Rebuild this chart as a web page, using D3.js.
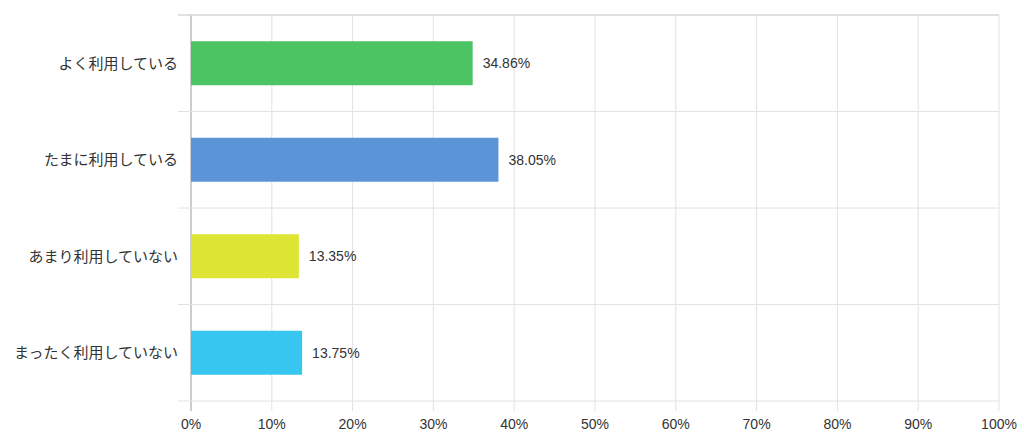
<!DOCTYPE html>
<html><head><meta charset="utf-8">
<script src="https://cdn.jsdelivr.net/npm/d3@7"></script>
<style>body{margin:0;background:#fff}svg{display:block}text{font-family:"Liberation Sans",Arial,"Noto Sans CJK JP",sans-serif}</style>
</head><body><svg id="c" width="1024" height="438"></svg>
<script>
const categories = ["よく利用している","たまに利用している","あまり利用していない","まったく利用していない"];
const values = [34.86, 38.05, 13.35, 13.75];
const colors = ["#4dc464","#5b95d8","#dfe535","#37c6f0"];
const xTicks = [0,10,20,30,40,50,60,70,80,90,100];

const svg = d3.select("#c");
const L = 191, R = 999, T = 15, B = 401;
const x = d3.scaleLinear().domain([0,100]).range([L,R]);
const y = d3.scaleBand().domain(categories).range([T,B]);
const barH = 44;

// vertical grid
svg.append("g").selectAll("line").data(xTicks).join("line")
  .attr("x1",d=>x(d)).attr("x2",d=>x(d)).attr("y1",T).attr("y2",B+10)
  .attr("stroke",d=>d===0?"#bdbdbd":"#e2e2e2").attr("stroke-width",d=>d===0?1.5:1);
// horizontal grid
const hLines = categories.map(c=>y(c)).concat([B]);
svg.append("g").selectAll("line").data(hLines).join("line")
  .attr("x1",L-13).attr("x2",R).attr("y1",d=>d).attr("y2",d=>d)
  .attr("stroke","#e2e2e2");
svg.append("line").attr("x1",L-13).attr("x2",R).attr("y1",T).attr("y2",T).attr("stroke","#d0d0d0");

// bars
svg.append("g").selectAll("rect").data(values).join("rect")
  .attr("x",x(0)).attr("y",(d,i)=>y(categories[i])+y.bandwidth()/2-barH/2)
  .attr("width",d=>x(d)-x(0)).attr("height",barH)
  .attr("fill",(d,i)=>colors[i]);

// value labels
svg.append("g").selectAll("text").data(values).join("text")
  .attr("x",d=>x(d)+10).attr("y",(d,i)=>y(categories[i])+y.bandwidth()/2)
  .attr("dy","0.35em").attr("font-size",14).attr("fill","#333")
  .text(d=>d.toFixed(2)+"%");

// category labels
svg.append("g").selectAll("text").data(categories).join("text")
  .attr("x",L-13).attr("y",d=>y(d)+y.bandwidth()/2).attr("dy","0.35em")
  .attr("text-anchor","end").attr("font-size",15).attr("fill","#333").text(d=>d);

// x tick labels
svg.append("g").selectAll("text").data(xTicks).join("text")
  .attr("x",d=>x(d)).attr("y",424).attr("dy","0.35em").attr("text-anchor","middle")
  .attr("font-size",14).attr("fill","#333").text(d=>d+"%");
</script></body></html>
